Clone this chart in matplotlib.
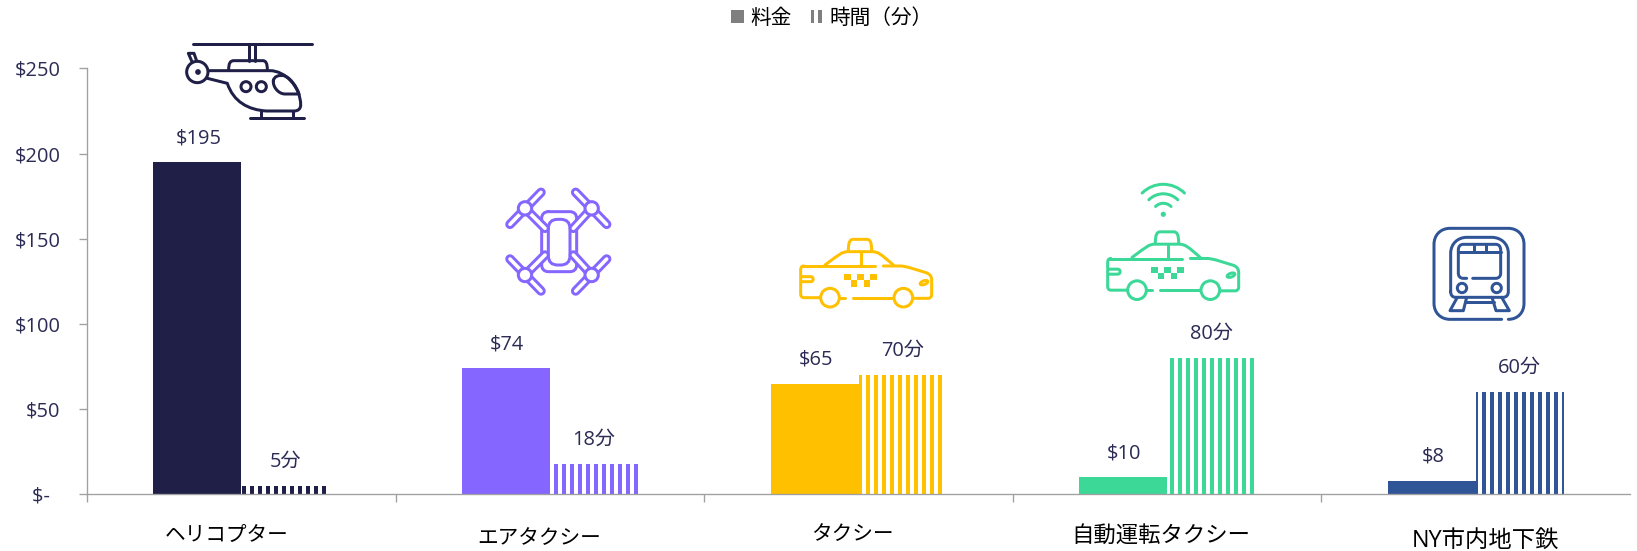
import matplotlib
matplotlib.use("Agg")
import matplotlib.pyplot as plt
from matplotlib.patches import Circle, Ellipse, FancyBboxPatch, Patch, PathPatch, Rectangle, Arc
from matplotlib.path import Path

categories = ["ヘリコプター", "エアタクシー", "タクシー", "自動運転タクシー", "NY市内地下鉄"]
fares = [195, 74, 65, 10, 8]
minutes = [5, 18, 70, 80, 60]
colors = ["#1F1F47", "#8566FF", "#FFC000", "#3BD897", "#2F5597"]
y_ticks = [0, 50, 100, 150, 200, 250]
y_labels = ["$-\u00a0\u00a0", "$50", "$100", "$150", "$200", "$250"]
legend_labels = ["料金", "時間（分）"]
label_pos = [(227, 535), (539, 539), (852, 535), (1161, 537), (1486, 541)]
label_sizes = [15.5, 15.5, 15.5, 16.8, 17.5]

W, H = 1637, 551
DPI = 96
FONT = ["Open Sans", "Noto Sans CJK JP", "DejaVu Sans"]
INK = "#2B2B55"
AXIS = "#A0A0A0"
STROKE = 3.0
plt.rcParams["font.family"] = FONT
plt.rcParams["hatch.linewidth"] = 3.0

fig = plt.figure(figsize=(W / DPI, H / DPI), dpi=DPI, facecolor="white")
ax = fig.add_axes([87 / W, (H - 494.4) / H, (1630 - 87) / W, (494.4 - 68.4) / H])
ov = fig.add_axes([0, 0, 1, 1], zorder=3)
ov.set_xlim(0, W)
ov.set_ylim(H, 0)
ov.axis("off")
ov.patch.set_alpha(0)

# Paired columns: solid fare on the left, striped travel time on the right
bar_w = 0.285
for i, (fare, mins, col) in enumerate(zip(fares, minutes, colors)):
    c = i + 0.5
    ax.bar(c - bar_w / 2, fare, bar_w, color=col, linewidth=0)
    ax.bar(c + bar_w / 2, mins, bar_w, facecolor="none", edgecolor=col, hatch="||", linewidth=0)
    ax.annotate(f"${fare}", (c - bar_w / 2, fare), xytext=(1, 18), textcoords="offset points",
                ha="center", va="center", fontsize=15, color=INK)
    ax.annotate(f"{mins}分", (c + bar_w / 2, mins), xytext=(0, 18), textcoords="offset points",
                ha="center", va="center", fontsize=15, color=INK)

ax.set_xlim(0, 5)
ax.set_ylim(0, 250)
ax.set_xticks(range(5))
ax.set_xticklabels([])
ax.set_yticks(y_ticks)
ax.set_yticklabels(y_labels, fontsize=15, color=INK)
ax.tick_params(axis="both", length=6, width=1, color=AXIS)
ax.tick_params(axis="y", pad=14)
for side in ("top", "right"):
    ax.spines[side].set_visible(False)
for side in ("left", "bottom"):
    ax.spines[side].set_color(AXIS)
    ax.spines[side].set_linewidth(1)

for name, (x, y), size in zip(categories, label_pos, label_sizes):
    ov.text(x, y, name, ha="center", va="center", fontsize=size, color="black")

# Legend swatches along the top edge
leg = fig.legend(
    handles=[Patch(facecolor="#7F7F7F", linewidth=0),
             Patch(facecolor="white", edgecolor="#7F7F7F", hatch="||", linewidth=0)],
    labels=legend_labels, ncols=2, frameon=False, fontsize=15.5,
    loc="center", bbox_to_anchor=(832 / W, (H - 18) / H),
    handlelength=0.6, handleheight=0.6, handletextpad=0.3, columnspacing=0.95, borderpad=0,
)


class Icon:
    """Line-art pictogram; coordinates are given on a 1/3-pixel grid from (ox, oy)."""

    def __init__(self, ox, oy, color, k=1 / 3, lw=STROKE):
        self.ox, self.oy, self.color, self.k = ox, oy, color, k
        self.lw = lw * 72 / DPI

    def pt(self, p):
        return (self.ox + p[0] * self.k, self.oy + p[1] * self.k)

    def line(self, *pts, lw=None, color=None):
        xs, ys = zip(*[self.pt(p) for p in pts])
        ov.plot(xs, ys, color=color or self.color, lw=lw or self.lw,
                solid_capstyle="round", solid_joinstyle="round")

    def curve(self, *segs, close=False, fill="none"):
        # segs: start point, then 1-point (line) or 3-point (cubic) tuples
        verts, codes = [self.pt(segs[0])], [Path.MOVETO]
        for s in segs[1:]:
            if len(s) == 3:
                verts += [self.pt(q) for q in s]
                codes += [Path.CURVE4] * 3
            else:
                verts.append(self.pt(s[0]))
                codes.append(Path.LINETO)
        ov.add_patch(PathPatch(Path(verts, codes), facecolor=fill, edgecolor=self.color,
                               lw=self.lw, capstyle="round", joinstyle="round"))

    def circle(self, c, r, fill="white", z=4):
        ov.add_patch(Circle(self.pt(c), r * self.k, facecolor=fill, edgecolor=self.color,
                            lw=self.lw, zorder=z))

    def rrect(self, x0, y0, x1, y1, r):
        a, b = self.pt((x0, y0)), self.pt((x1, y1))
        rr = r * self.k
        ov.add_patch(FancyBboxPatch((a[0] + rr, a[1] + rr), b[0] - a[0] - 2 * rr, b[1] - a[1] - 2 * rr,
                                    boxstyle=f"round,pad={rr}", facecolor="none",
                                    edgecolor=self.color, lw=self.lw))

    def square(self, x0, y0, x1, y1):
        a, b = self.pt((x0, y0)), self.pt((x1, y1))
        ov.add_patch(Rectangle(a, b[0] - a[0], b[1] - a[1], facecolor=self.color, linewidth=0))


def helicopter(ox, oy, col):
    g = Icon(ox, oy, col)
    g.line((68, 43), (425, 43))
    g.line((238, 43), (238, 92))
    g.line((256, 43), (256, 92))
    g.curve((176, 120), ((176, 100), (180, 92), (192, 92)), ((278, 92),), ((288, 92), (292, 100), (292, 120)))
    g.curve((115, 122), ((300, 122),), ((345, 122), (392, 170), (392, 225)),
            ((392, 236), (385, 243), (372, 243)), ((290, 243),),
            ((235, 240), (190, 215), (172, 160)), ((112, 145),))
    g.curve((66, 95), ((55, 70),), ((72, 70),), ((80, 93),))
    g.circle((82, 126), 32)
    g.circle((84, 126), 4)
    g.circle((228, 170), 15)
    g.circle((274, 170), 15)
    g.curve((310, 152), ((312, 140), (325, 133), (345, 138)), ((362, 145), (380, 170), (387, 192)),
            ((345, 192),), ((325, 192), (308, 170), (310, 152)))
    g.line((240, 265), (402, 265))
    g.line((272, 243), (272, 265))
    g.line((370, 243), (370, 265))


def air_taxi(ox, oy, col):
    g = Icon(ox, oy, col)
    outer, inner = 9.5 * 72 / DPI, 3.6 * 72 / DPI
    hubs = [(105, 100), (305, 100), (105, 300), (305, 300)]
    blades = [((60, 148), (153, 52)), ((257, 52), (350, 148)), ((60, 252), (153, 348)), ((350, 252), (257, 348))]
    arms = [((105, 100), (165, 160)), ((305, 100), (250, 160)), ((105, 300), (165, 240)), ((305, 300), (250, 240))]
    for a, b in arms + blades:
        g.line(a, b, lw=outer)
    for a, b in arms + blades:
        g.line(a, b, lw=inner, color="white")
    g.curve((175, 110), ((240, 110),), ((252, 110), (260, 118), (260, 130)), ((260, 270),),
            ((260, 282), (252, 290), (240, 290)), ((175, 290),), ((163, 290), (155, 282), (155, 270)),
            ((155, 130),), ((155, 118), (163, 110), (175, 110)), fill="white")
    g.rrect(175, 133, 240, 270, 28)
    for h in hubs:
        g.circle(h, 20)


def taxi(ox, oy, col, k=1 / 3):
    g = Icon(ox, oy, col, k=k)
    g.curve((175, 62), ((175, 35), (180, 28), (190, 28)), ((230, 28),), ((240, 28), (245, 35), (245, 62)))
    g.curve((105, 105), ((150, 72), (155, 65), (175, 65)), ((245, 65),), ((265, 65), (272, 72), (310, 105)))
    g.line((212, 65), (212, 105))
    g.line((35, 108), (255, 108))
    g.curve((280, 108), ((330, 108),), ((350, 108), (380, 120), (408, 128)), ((420, 132), (425, 140), (425, 150)),
            ((425, 195),), ((425, 200), (420, 205), (415, 205)), ((370, 205),))
    g.line((190, 203), (305, 203))
    g.line((150, 203), (165, 203))
    g.curve((90, 203), ((42, 203),), ((35, 203), (32, 198), (32, 192)), ((32, 120),),
            ((32, 112), (35, 108), (42, 108)))
    g.curve((35, 140), ((62, 140),), ((72, 140), (72, 155), (62, 155)), ((35, 155),))
    g.circle((120, 203), 28)
    g.circle((340, 203), 28)
    ov.add_patch(Ellipse(g.pt((402, 158)), 24 * k, 11 * k, angle=-20, facecolor="none",
                         edgecolor=col, lw=g.lw))
    cell = 19.4
    for col_i, row_i in [(0, 0), (2, 0), (4, 0), (1, 1), (3, 1)]:
        x = 163 + col_i * cell
        y = 132 + row_i * cell
        g.square(x, y, x + cell, y + cell)


def wifi(cx, cy, col):
    ov.add_patch(Circle((cx, cy), 2.6, facecolor=col, linewidth=0))
    for r in (11, 20.5, 30):
        ov.add_patch(Arc((cx, cy), 2 * r, 2 * r, theta1=225, theta2=315, edgecolor=col,
                         lw=STROKE * 72 / DPI, capstyle="round"))


def train(ox, oy, col):
    g = Icon(ox, oy, col)
    g.curve((245, 298), ((90, 298),), ((62, 298), (42, 278), (42, 250)), ((42, 73),),
            ((42, 45), (62, 25), (90, 25)), ((265, 25),), ((293, 25), (312, 45), (312, 73)),
            ((312, 250),), ((312, 278), (293, 298), (265, 298)))
    g.curve((92, 215), ((92, 100),), ((92, 70), (115, 52), (140, 52)), ((215, 52),),
            ((242, 52), (265, 70), (265, 100)), ((265, 215),), ((265, 226), (258, 232), (250, 232)),
            ((107, 232),), ((98, 232), (92, 226), (92, 215)))
    g.curve((140, 175), ((130, 175),), ((120, 175), (115, 168), (115, 160)), ((115, 90),),
            ((115, 80), (120, 73), (130, 73)), ((227, 73),), ((237, 73), (242, 80), (242, 90)),
            ((242, 160),), ((242, 168), (237, 175), (227, 175)), ((158, 175),))
    g.line((115, 95), (242, 95))
    g.line((162, 73), (162, 95))
    g.line((197, 73), (197, 95))
    g.circle((126, 204), 14)
    g.circle((230, 204), 14)
    g.line((112, 232), (90, 272), (130, 272), (140, 232))
    g.line((216, 232), (228, 272), (268, 272), (245, 232))
    g.line((135, 245), (222, 245))


helicopter(170, 30, colors[0])
air_taxi(490, 175, colors[1])
taxi(790, 230, colors[2])
taxi(1097, 222.5, colors[3], k=1 / 3)
wifi(1163.3, 214.3, colors[3])
train(1420, 220, colors[4])

fig.savefig("out.png", dpi=DPI)
